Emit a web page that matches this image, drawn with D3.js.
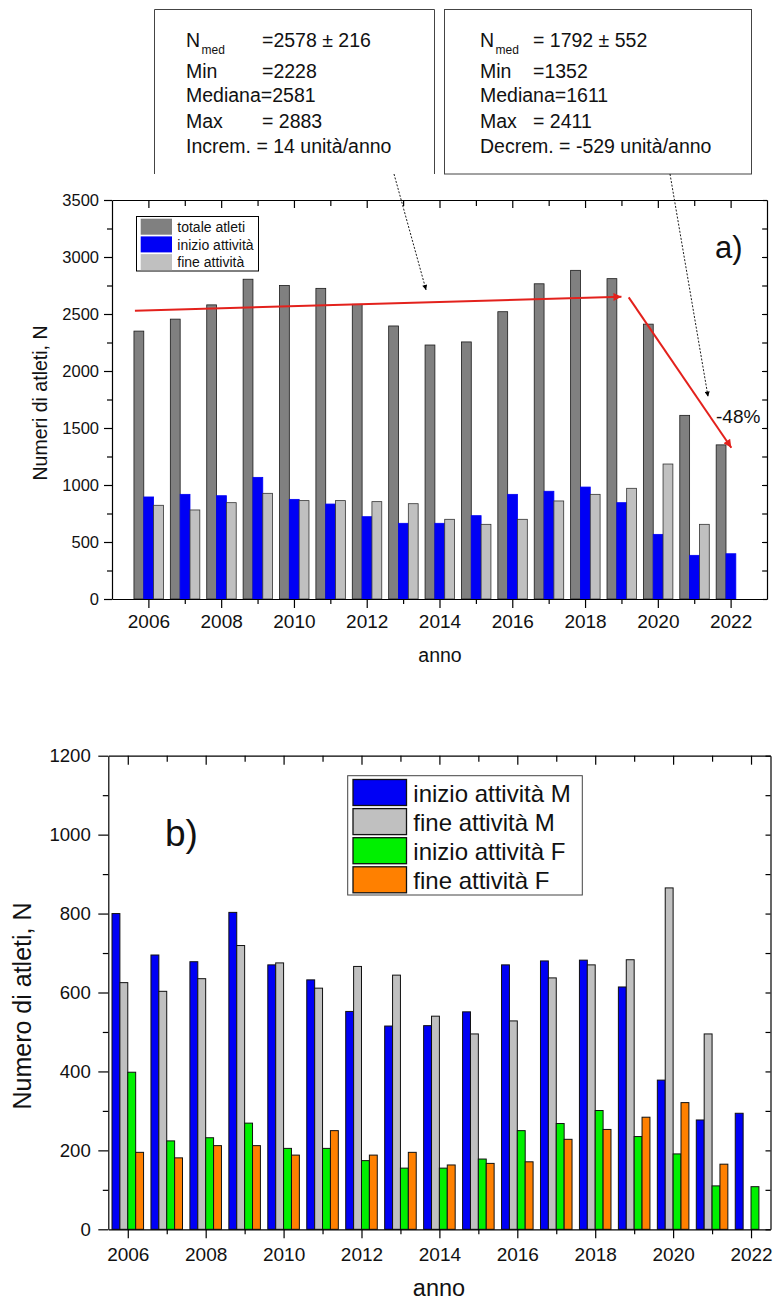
<!DOCTYPE html>
<html><head><meta charset="utf-8">
<script src="https://cdn.jsdelivr.net/npm/d3@7"></script>
<style>
body{margin:0;background:#fff}
svg{display:block}
text{font-family:"Liberation Sans",Arial,sans-serif;fill:#111}
</style>
</head><body>
<script>
// ---------- DATA ----------
const years = [2006,2007,2008,2009,2010,2011,2012,2013,2014,2015,2016,2017,2018,2019,2020,2021,2022];

// chart a
const totaleAtleti  = [2350,2455,2580,2805,2750,2725,2585,2395,2228,2255,2520,2765,2883,2810,2411,1611,1352];
const inizioAtt     = [895,918,906,1067,874,833,722,664,664,731,918,945,982,845,567,383,397];
const fineAtt       = [822,781,845,927,863,863,854,836,699,655,699,860,918,971,1184,655,0];
const seriesNamesA  = ["totale atleti","inizio attività","fine attività"];
const yTicksA       = [0,250,500,750,1000,1250,1500,1750,2000,2250,2500,2750,3000,3250,3500];
const trendUp       = [{year:2005.63, value:2529},{year:2019.0, value:2652}];
const trendDown     = [{year:2019.2, value:2646},{year:2022.02, value:1327}];
const arrowTips     = [{year:2013.63, value:2711},{year:2021.38, value:1775}];
const box1Lines     = [["N","med","=2578 ± 216"],["Min","","=2228"],["Mediana=2581","",""],["Max","","= 2883"],["Increm.  = 14 unità/anno","",""]];
const box2Lines     = [["N","med","= 1792 ± 552"],["Min","","=1352"],["Mediana=1611","",""],["Max","","= 2411"],["Decrem. = -529 unità/anno","",""]];

// chart b
const inizioM = [800,695,678,803,670,632,552,515,516,551,670,680,682,614,378,277,294];
const fineM   = [625,603,635,719,675,611,666,644,540,495,528,637,670,683,865,495,0];
const inizioF = [398,224,232,269,205,205,174,155,155,178,250,268,301,235,191,110,108];
const fineF   = [195,181,212,212,188,250,188,195,163,167,171,228,253,284,321,165,0];
const seriesNamesB = ["inizio attività M","fine attività M","inizio attività F","fine attività F"];
const yTicksB = [0,100,200,300,400,500,600,700,800,900,1000,1100,1200];

// ---------- SVG ----------
const svg = d3.select("body").append("svg").attr("width",773).attr("height",1300);
const defs = svg.append("defs");
function marker(id, color, w, h){
  defs.append("marker").attr("id",id).attr("viewBox","0 0 10 10")
    .attr("refX",10).attr("refY",5).attr("markerUnits","userSpaceOnUse")
    .attr("markerWidth",w).attr("markerHeight",h).attr("orient","auto")
    .append("path").attr("d","M0,0L10,5L0,10z").attr("fill",color);
}
marker("arrRed","#e3211c",13,8);
marker("arrBlk","#000",8,5);

function styleAxis(g, fs){
  g.select(".domain").attr("stroke","#000").attr("stroke-width",1.2);
  g.selectAll(".tick line").attr("stroke","#000").attr("stroke-width",1.2);
  g.selectAll(".tick text").attr("font-size",fs).attr("fill","#111")
    .attr("font-family",'"Liberation Sans",Arial,sans-serif');
}

// ================= CHART A =================
const A = {left:112, right:767, top:200, bottom:599};
const xA = d3.scaleLinear().domain([2005,2023]).range([A.left,A.right]);
const yA = d3.scaleLinear().domain([0,3500]).range([A.bottom,A.top]);
const seriesA = [
  {key:seriesNamesA[0], values:totaleAtleti, fill:"#808080", stroke:"#1a1a1a"},
  {key:seriesNamesA[1], values:inizioAtt,    fill:"#0000f5", stroke:"#0000f5"},
  {key:seriesNamesA[2], values:fineAtt,      fill:"#c0c0c0", stroke:"#333"}
];
const groupWA = xA(2005.81)-xA(2005);
const subA = d3.scaleBand().domain(seriesNamesA).range([-groupWA/2+0.3, groupWA/2+0.3]);
const gA = svg.append("g");
seriesA.forEach(s=>{
  gA.append("g").selectAll("rect")
    .data(years.map((yr,i)=>({yr, v:s.values[i]})).filter(d=>d.v>0))
    .join("rect")
    .attr("x",d=>xA(d.yr)+subA(s.key))
    .attr("width",subA.bandwidth())
    .attr("y",d=>yA(d.v))
    .attr("height",d=>yA(0)-yA(d.v))
    .attr("fill",s.fill).attr("stroke",s.stroke).attr("stroke-width",0.8);
});

// axes A
let g;
g = svg.append("g").attr("transform",`translate(0,${A.bottom})`)
  .call(d3.axisBottom(xA).tickValues(years).tickSize(9).tickSizeOuter(0).tickPadding(7)
    .tickFormat(d=>d%2===0?d:""));
g.selectAll(".tick line").attr("y2",d=>d%2===0?9:5);
styleAxis(g,19);
g = svg.append("g").attr("transform",`translate(0,${A.top})`)
  .call(d3.axisTop(xA).tickValues(years).tickSize(-8).tickSizeOuter(0).tickFormat(""));
g.selectAll(".tick line").attr("y2",d=>d%2===0?8:6);
styleAxis(g,19);
g = svg.append("g").attr("transform",`translate(${A.left},0)`)
  .call(d3.axisLeft(yA).tickValues(yTicksA).tickSize(8).tickSizeOuter(0).tickPadding(5)
    .tickFormat(d=>d%500===0?d:""));
g.selectAll(".tick line").attr("x2",d=>d%500===0?-8:-5);
styleAxis(g,16.5);
g = svg.append("g").attr("transform",`translate(${A.right},0)`)
  .call(d3.axisRight(yA).tickValues(yTicksA).tickSize(-5).tickSizeOuter(0).tickFormat(""));
styleAxis(g,16);

svg.append("text").attr("x",440).attr("y",662).attr("text-anchor","middle")
  .attr("font-size",19.5).text("anno");
svg.append("text").attr("transform","translate(47,403) rotate(-90)").attr("text-anchor","middle")
  .attr("font-size",19.5).text("Numeri di atleti, N");
svg.append("text").attr("x",715).attr("y",258).attr("font-size",31).text("a)");

// legend A
const legA = svg.append("g");
legA.append("rect").attr("x",136.5).attr("y",216.5).attr("width",122).attr("height",54.5)
  .attr("fill","#fff").attr("stroke","#000").attr("stroke-width",1);
seriesA.forEach((s,i)=>{
  const ty = 218.7 + i*17.7;
  legA.append("rect").attr("x",140.7).attr("y",ty).attr("width",31.3).attr("height",16).attr("fill",s.fill);
  legA.append("text").attr("x",177.3).attr("y",ty+13.3).attr("font-size",14).text(s.key);
});

// trend lines
const line = d3.line().x(d=>xA(d.year)).y(d=>yA(d.value));
svg.append("path").attr("d",line(trendUp)).attr("fill","none")
  .attr("stroke","#e3211c").attr("stroke-width",2).attr("marker-end","url(#arrRed)");
svg.append("path").attr("d",line(trendDown)).attr("fill","none")
  .attr("stroke","#e3211c").attr("stroke-width",2).attr("marker-end","url(#arrRed)");
svg.append("text").attr("x",716).attr("y",423).attr("font-size",19).text("-48%");

// annotation boxes
svg.append("path").attr("d","M154.5,174 V9.5 H434.5 V174").attr("fill","none")
  .attr("stroke","#444").attr("stroke-width",1);
svg.append("rect").attr("x",444.5).attr("y",9.5).attr("width",307).attr("height",164.5)
  .attr("fill","none").attr("stroke","#444").attr("stroke-width",1);
const baselines = [47,78,102,128,153];
function boxText(lines, x0, xv){
  lines.forEach((l,i)=>{
    const t = svg.append("text").attr("x",x0).attr("y",baselines[i]).attr("font-size",19.5).text(l[0]);
    if(l[1]) svg.append("text").attr("x",x0+15.5).attr("y",baselines[i]+6.5).attr("font-size",12).text(l[1]);
    if(l[2]) svg.append("text").attr("x",xv).attr("y",baselines[i]).attr("font-size",19.5).text(l[2]);
  });
}
boxText(box1Lines,186,262);
boxText(box2Lines,480,533);

// dashed pointer arrows
const starts = [[394,174],[670,174]];
arrowTips.forEach((t,i)=>{
  svg.append("line").attr("x1",starts[i][0]).attr("y1",starts[i][1])
    .attr("x2",xA(t.year)).attr("y2",yA(t.value))
    .attr("stroke","#000").attr("stroke-width",0.9).attr("stroke-dasharray","2,1.6")
    .attr("marker-end","url(#arrBlk)");
});

// ================= CHART B =================
const B = {left:108.3, right:770.5, top:755.7, bottom:1229.3};
const xB = d3.scaleLinear().domain([2005.5,2022.5]).range([B.left,B.right]);
const yB = d3.scaleLinear().domain([0,1200]).range([B.bottom,B.top]);
const seriesB = [
  {key:seriesNamesB[0], values:inizioM, fill:"#0000f5"},
  {key:seriesNamesB[1], values:fineM,   fill:"#c0c0c0"},
  {key:seriesNamesB[2], values:inizioF, fill:"#00f000"},
  {key:seriesNamesB[3], values:fineF,   fill:"#ff8000"}
];
const groupWB = xB(2005.81)-xB(2005);
const subB = d3.scaleBand().domain(seriesNamesB).range([-groupWB/2, groupWB/2]);
seriesB.forEach(s=>{
  svg.append("g").selectAll("rect")
    .data(years.map((yr,i)=>({yr, v:s.values[i]})).filter(d=>d.v>0))
    .join("rect")
    .attr("x",d=>xB(d.yr)+subB(s.key))
    .attr("width",subB.bandwidth())
    .attr("y",d=>yB(d.v))
    .attr("height",d=>yB(0)-yB(d.v))
    .attr("fill",s.fill).attr("stroke","#111").attr("stroke-width",1);
});

g = svg.append("g").attr("transform",`translate(0,${B.bottom})`)
  .call(d3.axisBottom(xB).tickValues(years).tickSize(9).tickSizeOuter(0).tickPadding(9)
    .tickFormat(d=>d%2===0?d:""));
g.selectAll(".tick line").attr("y2",d=>d%2===0?9:5);
styleAxis(g,19);
g = svg.append("g").attr("transform",`translate(0,${B.top})`)
  .call(d3.axisTop(xB).tickValues(years).tickSize(-9).tickSizeOuter(0).tickFormat(""));
g.selectAll(".tick line").attr("y2",d=>d%2===0?9:6);
styleAxis(g,19);
g = svg.append("g").attr("transform",`translate(${B.left},0)`)
  .call(d3.axisLeft(yB).tickValues(yTicksB).tickSize(10).tickSizeOuter(0).tickPadding(7.5)
    .tickFormat(d=>d%200===0?d:""));
g.selectAll(".tick line").attr("x2",d=>d%200===0?-10:-5.5);
styleAxis(g,18.6);
g = svg.append("g").attr("transform",`translate(${B.right},0)`)
  .call(d3.axisRight(yB).tickValues(yTicksB).tickSize(-5).tickSizeOuter(0).tickFormat(""));
styleAxis(g,18);

svg.append("text").attr("x",439).attr("y",1296).attr("text-anchor","middle")
  .attr("font-size",23.5).text("anno");
svg.append("text").attr("transform","translate(31,1006) rotate(-90)").attr("text-anchor","middle")
  .attr("font-size",25).text("Numero di atleti, N");
svg.append("text").attr("x",165).attr("y",846).attr("font-size",37).text("b)");

// legend B
const legB = svg.append("g");
legB.append("rect").attr("x",347.7).attr("y",775.7).attr("width",234.6).attr("height",119.3)
  .attr("fill","#fff").attr("stroke","#444").attr("stroke-width",1);
seriesB.forEach((s,i)=>{
  const ty = 779.5 + i*29.1;
  legB.append("rect").attr("x",353).attr("y",ty).attr("width",53.5).attr("height",26)
    .attr("fill",s.fill).attr("stroke","#111").attr("stroke-width",1.3);
  legB.append("text").attr("x",413.3).attr("y",ty+22).attr("font-size",24).text(s.key);
});
</script>
</body></html>
